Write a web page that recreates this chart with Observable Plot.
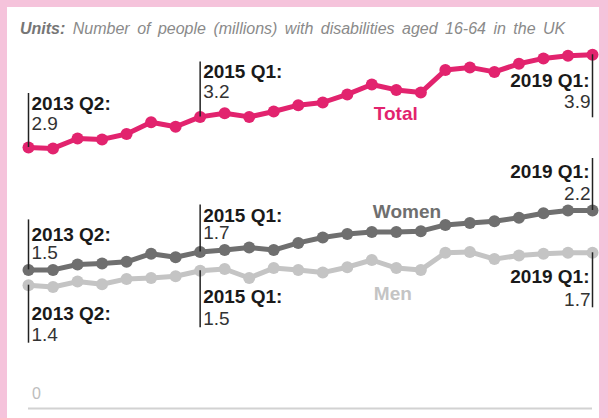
<!DOCTYPE html>
<html>
<head>
<meta charset="utf-8">
<script src="https://cdn.jsdelivr.net/npm/d3@7"></script>
<script src="https://cdn.jsdelivr.net/npm/@observablehq/plot@0.6"></script>
<style>
  html, body { margin: 0; padding: 0; background: #fff; }
  #wrap { position: relative; width: 608px; height: 418px; box-sizing: border-box;
          border-top: 7px solid #f5c3db; border-left: 7px solid #f5c3db; border-right: 9px solid #f5c3db;
          font-family: "Liberation Sans", Arial, sans-serif; overflow: hidden; }
  #title { position: absolute; left: 13px; top: 14px; font-size: 16px; line-height: 16px;
           font-style: italic; color: #8a8a8a; white-space: nowrap; word-spacing: 3px; }
  #title b { color: #767676; }
  #chart { position: absolute; left: 0; top: 38px; }
</style>
</head>
<body>
<div id="wrap">
  <div id="title"><b>Units:</b> Number of people (millions) with disabilities aged 16-64 in the UK</div>
  <div id="chart"></div>
</div>
<script>
// ---- data ----
const quarters = ["2013 Q2","2013 Q3","2013 Q4","2014 Q1","2014 Q2","2014 Q3","2014 Q4","2015 Q1",
  "2015 Q2","2015 Q3","2015 Q4","2016 Q1","2016 Q2","2016 Q3","2016 Q4","2017 Q1","2017 Q2","2017 Q3",
  "2017 Q4","2018 Q1","2018 Q2","2018 Q3","2018 Q4","2019 Q1"];
const total = [2.90, 2.89, 3.00, 2.99, 3.05, 3.18, 3.13, 3.24, 3.28, 3.24, 3.30, 3.37,
               3.40, 3.49, 3.60, 3.54, 3.51, 3.76, 3.79, 3.74, 3.83, 3.89, 3.92, 3.93];
const women = [1.54, 1.54, 1.60, 1.61, 1.63, 1.72, 1.68, 1.74, 1.76, 1.79, 1.76, 1.84,
               1.90, 1.94, 1.96, 1.96, 1.97, 2.04, 2.06, 2.08, 2.12, 2.17, 2.20, 2.20];
const men = [1.37, 1.35, 1.41, 1.38, 1.44, 1.45, 1.47, 1.53, 1.55, 1.45, 1.56, 1.54,
             1.51, 1.57, 1.65, 1.56, 1.54, 1.73, 1.74, 1.66, 1.70, 1.72, 1.73, 1.73];
const seriesNames = ["Men", "Women", "Total"];
const annotatedQuarters = ["2013 Q2", "2015 Q1", "2019 Q1"];

// ---- styles / layout ----
const colors = {Total: "#e2236e", Women: "#6f6f6f", Men: "#c4c4c4"};
const W = 592, H = 380, mL = 21, mR = 7, mT = 3, mB = 17, yMax = 4;
const pxPerUnit = (H - mT - mB) / yMax;
// per-annotation pixel offsets: [line length, label baseline, value baseline] (negative = above)
const annLayout = {
  "Total|2013 Q2": [-54, -38, -18], "Total|2015 Q1": [-55, -39, -19], "Total|2019 Q1": [63, 32, 53],
  "Women|2013 Q2": [-50, -29, -11], "Women|2015 Q1": [-47, -30, -13], "Women|2019 Q1": [-52, -33, -11],
  "Men|2013 Q2": [58, 35, 56], "Men|2015 Q1": [57, 32, 54], "Men|2019 Q1": [55, 30, 53]
};
// series name labels: anchor quarter and pixel offsets [dx, dy]
const nameLayout = {Total: ["2016 Q4", 2, 29], Women: ["2016 Q4", 1, -20], Men: ["2016 Q4", 2, 34]};

const seriesValues = {Total: total, Women: women, Men: men};
const rows = seriesNames.flatMap(s => quarters.map((q, i) => ({series: s, quarter: q, value: seriesValues[s][i]})));
const ann = seriesNames.flatMap(s => annotatedQuarters.map(q => {
  const i = quarters.indexOf(q);
  const [len, lb, vb] = annLayout[s + "|" + q];
  return {series: s, quarter: q, value: seriesValues[s][i], len, lb, vb,
          anchor: q === "2019 Q1" ? "end" : "start"};
}));

const fs = 19;
const mid = 0.32 * fs;
const textMarks = [];
for (const a of ann) {
  textMarks.push(Plot.ruleX([a], {x: "quarter", y1: "value", y2: d => d.value - d.len / pxPerUnit,
    stroke: "#222", strokeWidth: 1.5}));
  textMarks.push(Plot.text([a], {x: "quarter", y: "value", text: d => d.quarter + ":",
    textAnchor: a.anchor, dx: a.anchor === "end" ? -3 : 3, dy: a.lb - mid,
    fontWeight: "bold", fontSize: fs, fill: "#1a1a1a"}));
  textMarks.push(Plot.text([a], {x: "quarter", y: "value", text: d => d3.format(".1f")(d.value),
    textAnchor: a.anchor, dx: a.anchor === "end" ? -2 : 3, dy: a.vb - mid,
    fontSize: fs, fill: "#333"}));
}
const nameMarks = seriesNames.map(s => {
  const [q, dx, dy] = nameLayout[s];
  return Plot.text([{series: s, quarter: q, value: seriesValues[s][quarters.indexOf(q)]}],
    {x: "quarter", y: "value", text: "series", textAnchor: "start", dx, dy,
     fontWeight: "bold", fontSize: fs, fill: colors[s]});
});

const chart = Plot.plot({
  width: W, height: H,
  marginLeft: mL, marginRight: mR, marginTop: mT, marginBottom: mB,
  style: {fontFamily: "'Liberation Sans', Arial, sans-serif", background: "transparent", overflow: "visible"},
  x: {type: "point", domain: quarters, padding: 0, round: false, axis: null},
  y: {domain: [0, yMax], axis: null},
  marks: [
    Plot.ruleY([0], {stroke: "#d2d2d2", strokeWidth: 2}),
    Plot.text([0], {x: () => quarters[0], y: d => d, text: d => String(d), dx: 8, dy: -15,
      textAnchor: "middle", fontSize: 16, fill: "#bdbdbd"}),
    ...seriesNames.map(s => Plot.line(rows.filter(d => d.series === s),
      {x: "quarter", y: "value", stroke: colors[s], strokeWidth: 5, curve: "linear"})),
    ...seriesNames.map(s => Plot.dot(rows.filter(d => d.series === s),
      {x: "quarter", y: "value", fill: colors[s], r: 6})),
    ...textMarks,
    ...nameMarks
  ]
});
document.getElementById("chart").appendChild(chart);
</script>
</body>
</html>
